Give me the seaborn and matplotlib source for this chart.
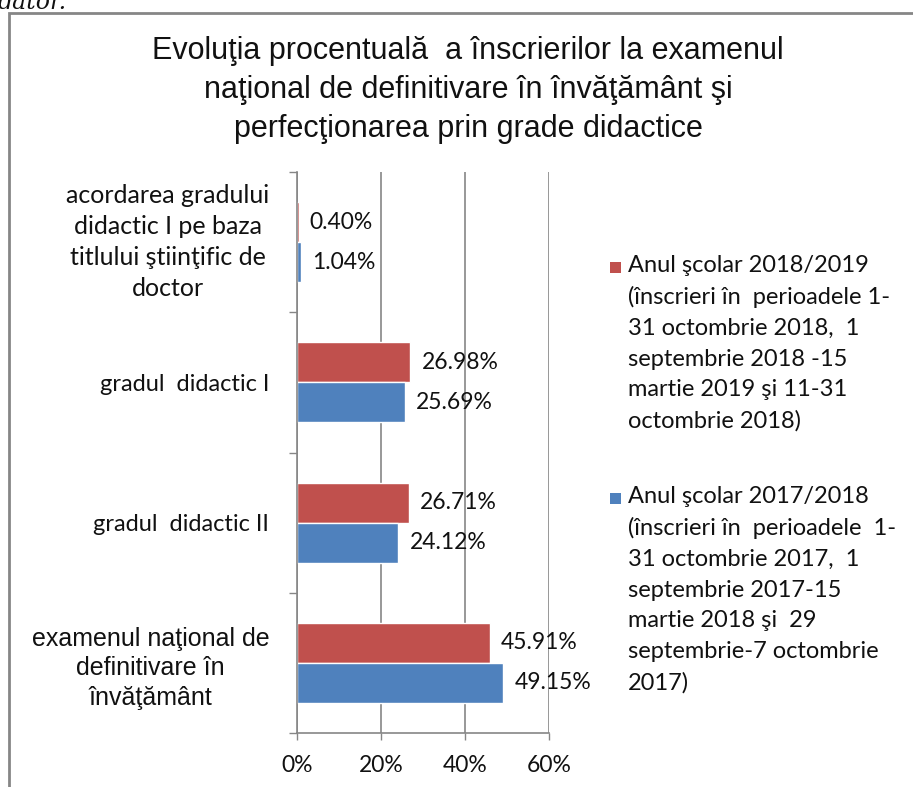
import matplotlib
matplotlib.use('Agg')
import matplotlib.pyplot as plt
import matplotlib.transforms as mtransforms
import seaborn as sns
import pandas as pd
from matplotlib.patches import Rectangle
from matplotlib.ticker import FuncFormatter

sns.set_theme(style="white")
plt.rcParams['font.family'] = ['Lato', 'DejaVu Sans']

# data (percent)
categories = [
    "acordarea gradului\ndidactic I pe baza\ntitlului ştiinţific de\ndoctor",
    "gradul  didactic I",
    "gradul  didactic II",
    "examenul naţional de\ndefinitivare în\nînvăţământ",
]
series_names = ["Anul şcolar 2018/2019", "Anul şcolar 2017/2018"]
values_2018_2019 = [0.40, 26.98, 26.71, 45.91]
values_2017_2018 = [1.04, 25.69, 24.12, 49.15]
legend_texts = [
    "Anul şcolar 2018/2019\n(înscrieri în  perioadele 1-\n31 octombrie 2018,  1\nseptembrie 2018 -15\nmartie 2019 şi 11-31\noctombrie 2018)",
    "Anul şcolar 2017/2018\n(înscrieri în  perioadele  1-\n31 octombrie 2017,  1\nseptembrie 2017-15\nmartie 2018 şi  29\nseptembrie-7 octombrie\n2017)",
]
x_ticks = [0, 20, 40, 60]
title = "Evoluţia procentuală  a înscrierilor la examenul\nnaţional de definitivare în învăţământ şi\nperfecţionarea prin grade didactice"

colors = ["#C0504D", "#4F81BD"]
grey = "#868686"
ink = "#111111"

df = pd.DataFrame({
    "cat": categories * 2,
    "val": values_2018_2019 + values_2017_2018,
    "serie": [series_names[0]] * 4 + [series_names[1]] * 4,
})

fig = plt.figure(figsize=(9.13, 7.87), dpi=100)
ax = fig.add_axes([297 / 913, 1 - 733 / 787, 252 / 913, 561 / 787])

sns.barplot(data=df, x="val", y="cat", hue="serie", order=categories,
            hue_order=series_names, palette=colors, orient="h",
            width=0.57, gap=0, saturation=1, legend=False, ax=ax)

for cont in ax.containers:
    ax.bar_label(cont, fmt="%.2f%%", padding=8, fontsize=16.5, color=ink)

ax.set_xlim(0, 60)
ax.set_ylim(3.5, -0.5)
ax.set_xticks(x_ticks)
ax.xaxis.set_major_formatter(FuncFormatter(lambda v, p: f"{v:.0f}%"))
ax.set_xlabel("")
ax.set_ylabel("")
ax.grid(axis="x", color=grey, linewidth=1.2)
ax.set_axisbelow(True)

# category boundary ticks like the original
ax.set_yticks([-0.5, 0.5, 1.5, 2.5, 3.5], minor=True)
ax.tick_params(axis="y", which="minor", length=6, width=1, color=grey, left=True)
ax.tick_params(axis="y", which="major", length=0, pad=20)
ax.tick_params(axis="x", which="major", length=5, width=1, color=grey,
               bottom=True, labelsize=16.5, labelcolor=ink, pad=11)
ylabels = ax.get_yticklabels()
for lbl, size in zip(ylabels, [18, 17, 17, 18]):
    lbl.set_multialignment("center")
    lbl.set_fontsize(size)
    lbl.set_linespacing(1.42)
    lbl.set_color(ink)
ylabels[-1].set_family("Liberation Sans")
ylabels[-1].set_linespacing(1.3)
# first label sits a little higher in the original
ylabels[0].set_transform(ylabels[0].get_transform()
                         + mtransforms.ScaledTranslation(0, 6 / 100, fig.dpi_scale_trans))

for side in ["top", "right"]:
    ax.spines[side].set_visible(False)
for side in ["left", "bottom"]:
    ax.spines[side].set_color(grey)
    ax.spines[side].set_linewidth(1.2)

fig.text(468 / 913, 1 - 36 / 787, title, ha="center", va="top", fontsize=22,
         family="Liberation Sans", linespacing=1.4, color=ink)

# legend drawn by hand so the square sits on the first line
leg_tops = [255, 486]
for txt, col, top in zip(legend_texts, colors, leg_tops):
    fig.patches.append(Rectangle((610 / 913, 1 - (top + 18) / 787), 11 / 913, 11 / 787,
                                 transform=fig.transFigure, facecolor=col,
                                 edgecolor="none"))
    fig.text(628 / 913, 1 - top / 787, txt, ha="left", va="top", fontsize=17,
             linespacing=1.57, color=ink)

# chart frame and the cut off text above it
fig.patches.append(Rectangle((9 / 913, -0.05), 1.0, 1.05 - 13 / 787,
                             transform=fig.transFigure, fill=False,
                             edgecolor=grey, linewidth=2))
fig.text(-0.003, 1 - 9 / 787, "dator.", ha="left", va="baseline", fontsize=17,
         family="DejaVu Serif", style="italic", color=ink)

fig.savefig("out.png", dpi=100)
